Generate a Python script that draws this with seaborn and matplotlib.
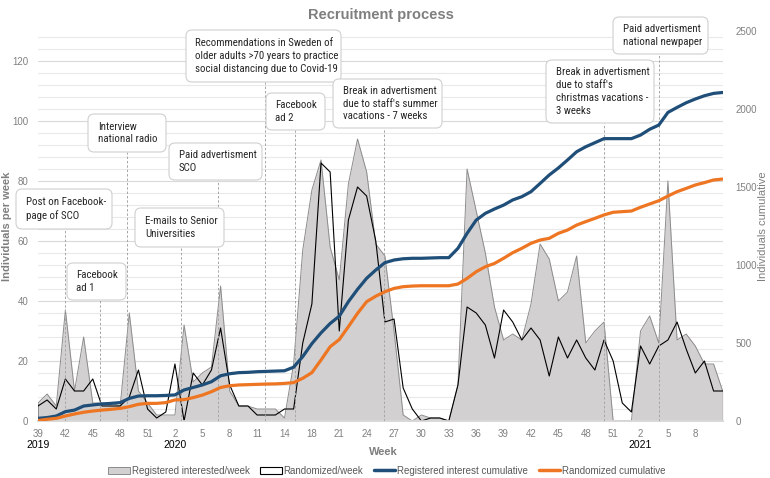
import numpy as np
import pandas as pd
import matplotlib
matplotlib.use("Agg")
import matplotlib.pyplot as plt
import seaborn as sns
from matplotlib.patches import FancyBboxPatch, Patch
from matplotlib.lines import Line2D
from matplotlib import font_manager as fm

# ---------------- data ----------------
weeks = (list(range(39, 53)) + list(range(1, 15)) + [16, 17] +
         list(range(18, 53)) + list(range(1, 12)))
year_labels = ["2019", "2020", "2021"]

registered_week = [6, 9, 5, 37, 10, 28, 6, 6, 6, 5, 36, 10, 6, 2, 2, 2, 32, 13, 16, 18,
                   45, 10, 5, 5, 4, 4, 4, 1, 19, 57, 77, 87, 58, 47, 79, 94, 83, 59, 55, 30,
                   2, 0, 2, 1, 1, 0, 12, 84, 70, 56, 38, 27, 29, 27, 39, 59, 54, 40, 43, 55,
                   26, 30, 33, 0, 0, 0, 30, 35, 26, 80, 27, 29, 25, 19, 19, 10]
randomized_week = [5, 7, 4, 14, 10, 10, 14, 5, 5, 5, 8, 17, 4, 1, 3, 19, 0, 16, 12, 17,
                   31, 12, 5, 5, 2, 2, 2, 4, 4, 26, 39, 86, 83, 30, 67, 78, 75, 60, 33, 34,
                   11, 4, 0, 1, 1, 0, 12, 38, 36, 32, 21, 37, 33, 27, 31, 27, 15, 28, 21, 27,
                   21, 17, 27, 20, 6, 3, 25, 19, 25, 27, 33, 24, 16, 20, 10, 10]
registered_cum = [17, 22, 32, 60, 70, 96, 103, 109, 113, 118, 145, 160, 162, 162, 164, 167,
                  199, 215, 231, 252, 290, 303, 310, 312, 316, 318, 320, 322, 345, 413, 496,
                  565, 625, 672, 765, 844, 915, 968, 1015, 1032, 1040, 1043, 1043, 1045, 1047,
                  1047, 1107, 1203, 1288, 1331, 1359, 1384, 1417, 1438, 1470, 1523, 1577, 1622,
                  1673, 1726, 1758, 1784, 1810, 1810, 1810, 1810, 1833, 1870, 1897, 1978, 2010,
                  2040, 2064, 2085, 2100, 2106]
randomized_cum = [3, 11, 17, 32, 45, 56, 64, 70, 75, 81, 92, 107, 113, 113, 118, 135, 137,
                  150, 166, 188, 215, 226, 231, 233, 235, 237, 238, 241, 246, 274, 310, 391,
                  476, 522, 605, 690, 765, 800, 829, 850, 861, 865, 867, 867, 867, 867, 878,
                  914, 957, 989, 1010, 1043, 1079, 1107, 1139, 1160, 1171, 1203, 1224, 1256,
                  1278, 1299, 1321, 1338, 1342, 1346, 1370, 1391, 1412, 1442, 1470, 1491, 1513,
                  1528, 1545, 1551]

annotation_texts = [
    "Post on Facebook-\npage of SCO",
    "Facebook\nad 1",
    "Interview\nnational radio",
    "E-mails to Senior\nUniversities",
    "Paid advertisment\nSCO",
    "Recommendations in Sweden of\nolder adults >70 years to practice\nsocial distancing due to Covid-19",
    "Facebook\nad 2",
    "Break in advertisment\ndue to staff's summer\nvacations - 7 weeks",
    "Break in advertisment\ndue to staff's\nchristmas vacations -\n3 weeks",
    "Paid advertisment\nnational newpaper",
]
# week position (category index) of each event
annotation_week_pos = [2.95, 6.8, 9.75, 15.65, 19.7, 24.85, 28.1, 37.9, 62.0, 68.0]

# ---------------- layout (pixels) ----------------
W, H = 770, 478
L, R, T, B = 38, 722.7, 31, 421
box_layout = [  # x0, y0, x1, y1, text-left
    (16, 189, 112, 229, 26),
    (67, 263, 126, 300, 76),
    (88, 114, 166, 152, 98),
    (135, 208, 224, 247, 145),
    (169, 143, 262, 180, 179),
    (186, 30, 341, 82, 195),
    (266, 93, 325, 130, 275),
    (333, 79, 442, 128, 343),
    (546, 60, 654, 123, 556),
    (613, 17, 708, 54, 623),
]

# ---------------- style ----------------
sns.set_theme(style="white")
avail = {f.name for f in fm.fontManager.ttflist}
base_font = "Liberation Sans" if "Liberation Sans" in avail else "DejaVu Sans"
narrow_font, narrow_size, narrow_ls = base_font, 6.5, 1.5
for cand in ["Liberation Sans Narrow", "Arial Narrow", "Roboto Condensed"]:
    if cand in avail:
        narrow_font, narrow_size, narrow_ls = cand, 7.8, 1.35
        break
plt.rcParams["font.family"] = [base_font, "DejaVu Sans"]

BLUE = "#1F4E79"
ORANGE = "#EE7623"
AREA = "#D2D0D0"
AREA_EDGE = "#8C8C8C"
TICK = "#808080"

fig = plt.figure(figsize=(W / 100, H / 100), dpi=100)
ax = fig.add_axes([L / W, 1 - B / H, (R - L) / W, (B - T) / H])
ax2 = ax.twinx()

x = np.arange(len(weeks))
df = pd.DataFrame({"x": x, "reg": registered_week, "rand": randomized_week,
                   "cum_reg": registered_cum, "cum_rand": randomized_cum})

ax.fill_between(df["x"], df["reg"], color=AREA, lw=0, zorder=2)
sns.lineplot(data=df, x="x", y="reg", ax=ax, color=AREA_EDGE, lw=0.7, zorder=3)
ax.vlines([x[0], x[-1]], 0, [registered_week[0], registered_week[-1]], color=AREA_EDGE, lw=0.7, zorder=3)
sns.lineplot(data=df, x="x", y="rand", ax=ax, color="black", lw=0.8, zorder=4)
ax.vlines([x[-1]], 0, [randomized_week[-1]], color="black", lw=0.8, zorder=4)

sns.lineplot(data=df, x="x", y="cum_reg", ax=ax2, color=BLUE, lw=2.3, zorder=5)
sns.lineplot(data=df, x="x", y="cum_rand", ax=ax2, color=ORANGE, lw=2.3, zorder=5)

ax.set_xlim(0, len(weeks) - 1)
ax.set_ylim(0, 130)
ax2.set_ylim(0, 2500)

ax.set_yticks(np.arange(0, 121, 20))
ax.set_yticks(np.arange(0, 130, 4), minor=True)
ax2.set_yticks(np.arange(0, 2501, 500))
ax.set_axisbelow(True)
ax.grid(which="minor", axis="y", color="#E9E9E9", lw=0.8)
ax.grid(which="major", axis="y", color="#D9D9D9", lw=0.8)
ax.grid(which="both", axis="x", visible=False)

ax.set_xticks(x[0:73:3])
ax.set_xticklabels([str(w) for w in weeks[0:73:3]])
ax.set_xticks(x, minor=True)
ax.tick_params(axis="x", which="major", length=3, width=0.6, color="#D9D9D9",
               labelsize=7, labelcolor=TICK, pad=3)
ax.tick_params(axis="x", which="minor", length=3, width=0.6, color="#D9D9D9")
ax.tick_params(axis="y", which="both", length=0, labelsize=7, labelcolor=TICK, pad=7)
ax2.tick_params(axis="y", length=0, labelsize=7, labelcolor=TICK, pad=9)

for a in (ax, ax2):
    for s in ["top", "left", "right"]:
        a.spines[s].set_visible(False)
    a.spines["bottom"].set_color("#D9D9D9")
    a.set_xlabel("")
    a.set_ylabel("")

# leader lines for annotations
for (x0, y0, x1, y1, tx), pos in zip(box_layout, annotation_week_pos):
    ax2.axvline(pos, ymin=0, ymax=(B - y1) / (B - T), color="#A6A6A6", lw=0.7,
                ls=(0, (2.5, 2)), zorder=3)

# overlay axes for annotation boxes
ov = fig.add_axes([0, 0, 1, 1], zorder=10)
ov.set_xlim(0, W)
ov.set_ylim(H, 0)
ov.axis("off")
ov.patch.set_alpha(0)
for (x0, y0, x1, y1, tx), txt in zip(box_layout, annotation_texts):
    ov.add_patch(FancyBboxPatch((x0, y0), x1 - x0, y1 - y0,
                                boxstyle="round,pad=0,rounding_size=6",
                                fc="white", ec="#D0D0D0", lw=0.8))
    ov.text(tx, (y0 + y1) / 2, txt, ha="left", va="center", fontsize=narrow_size,
            family=narrow_font, color="#262626", linespacing=narrow_ls)

# year labels under first week of each year segment
year_idx = [0] + [i for i, w in enumerate(weeks) if w == 2]
for lab, i in zip(year_labels, year_idx):
    px = L + (R - L) * i / (len(weeks) - 1)
    fig.text(px / W, 1 - 445 / H, lab, ha="center", va="center", fontsize=7.5, color="black")

fig.text(383 / W, 1 - 452 / H, "Week", ha="center", va="center", fontsize=8,
         fontweight="bold", color="#7F7F7F")
fig.text(7 / W, 1 - 226 / H, "Individuals per week", ha="center", va="center",
         rotation=90, fontsize=8, fontweight="bold", color="#7F7F7F")
fig.text(763 / W, 1 - 226 / H, "Individuals cumulative", ha="center", va="center",
         rotation=90, fontsize=8, color="#7F7F7F")
fig.text(381 / W, 1 - 19 / H, "Recruitment process", ha="center", va="baseline",
         fontsize=10.5, fontweight="bold", color="#7F7F7F")

handles = [Patch(facecolor=AREA, edgecolor=AREA_EDGE, lw=0.7),
           Patch(facecolor="white", edgecolor="black", lw=0.8),
           Line2D([], [], color=BLUE, lw=2.5),
           Line2D([], [], color=ORANGE, lw=2.5)]
labels = ["Registered interested/week", "Randomized/week",
          "Registered interest cumulative", "Randomized cumulative"]
fig.legend(handles, labels, loc="center", bbox_to_anchor=(387 / W, 1 - 471 / H), ncol=4,
           frameon=False, fontsize=7, handlelength=2.2, handleheight=0.8,
           handletextpad=0.2, columnspacing=1.1, labelcolor="#595959")

fig.savefig("out.png", dpi=100)
